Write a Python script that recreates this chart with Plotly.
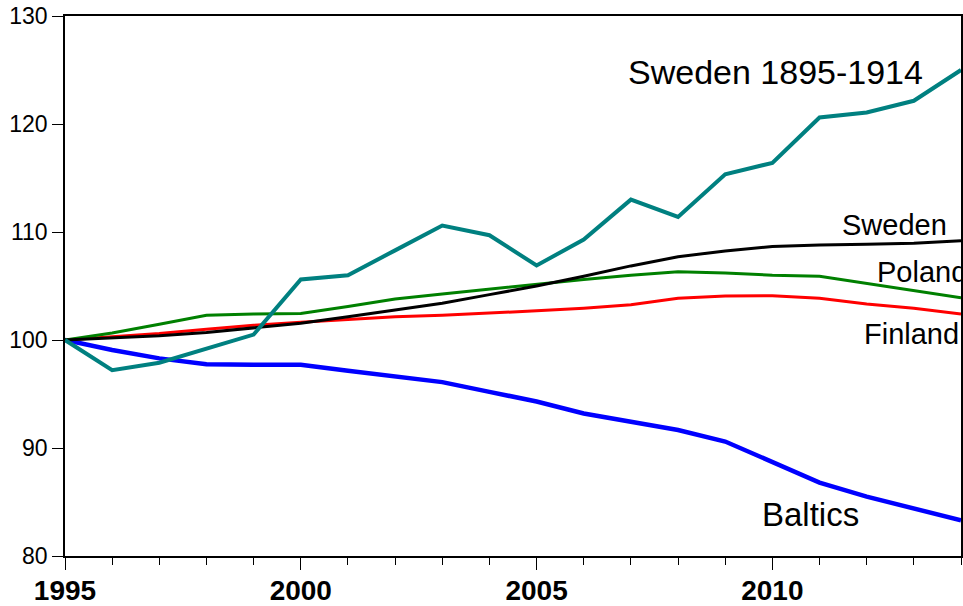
import plotly.graph_objects as go

years = list(range(1995, 2015))

sweden_1895_1914 = [100, 97.2, 97.9, 99.2, 100.5, 105.6, 106.0, 108.3, 110.6, 109.7,
                    106.9, 109.3, 113.0, 111.4, 115.35, 116.4, 120.6, 121.07, 122.15, 125.0]
sweden = [100, 100.2, 100.4, 100.7, 101.1, 101.55, 102.15, 102.8, 103.4, 104.2,
          105.0, 105.9, 106.86, 107.7, 108.25, 108.65, 108.8, 108.87, 108.96, 109.2]
poland = [100, 100.65, 101.45, 102.3, 102.4, 102.45, 103.1, 103.8, 104.26, 104.7,
          105.2, 105.6, 106.0, 106.33, 106.2, 106.0, 105.9, 105.25, 104.6, 103.9]
finland = [100, 100.3, 100.6, 101.0, 101.36, 101.65, 101.9, 102.16, 102.3, 102.47,
           102.7, 102.94, 103.27, 103.86, 104.07, 104.1, 103.86, 103.33, 102.94, 102.4]
baltics = [100, 99.07, 98.3, 97.75, 97.7, 97.7, 97.15, 96.66, 96.1, 95.2,
           94.3, 93.2, 92.43, 91.66, 90.6, 88.7, 86.8, 85.5, 84.4, 83.3]

y_ticks = [80, 90, 100, 110, 120, 130]
x_ticks = [1995, 2000, 2005, 2010]

FONT = "Liberation Sans, Arial, sans-serif"

fig = go.Figure()
series = [
    ("Baltics", baltics, "#0000FF", 4.5),
    ("Finland", finland, "#FF0000", 3),
    ("Poland", poland, "#008000", 3),
    ("Sweden", sweden, "#000000", 3),
    ("Sweden 1895-1914", sweden_1895_1914, "#008080", 4),
]
for name, vals, color, w in series:
    fig.add_trace(go.Scatter(x=years, y=vals, mode="lines", name=name,
                             line=dict(color=color, width=w), showlegend=False))

labels = [
    ("Sweden 1895-1914", 2010.07, 124.8, 34, "center"),
    ("Sweden", 2012.58, 110.66, 29, "center"),
    ("Poland", 2012.17, 106.33, 29, "left"),
    ("Finland", 2014.0, 100.56, 29, "right"),
    ("Baltics", 2010.8, 83.87, 33, "center"),
]
for text, xv, yv, size, anchor in labels:
    fig.add_annotation(x=xv, y=yv, text=text, showarrow=False,
                       xanchor=anchor, yanchor="middle",
                       font=dict(family=FONT, size=size, color="black"))

fig.update_layout(
    width=963, height=606,
    margin=dict(l=64.5, r=1.5, t=16.3, b=50.3),
    paper_bgcolor="white", plot_bgcolor="white",
    font=dict(family=FONT, color="black"),
)
fig.update_xaxes(range=[1995, 2014], tickvals=x_ticks, ticktext=[str(v) for v in x_ticks],
                 ticks="outside", ticklen=12, tickwidth=1, tickcolor="black",
                 minor=dict(dtick=1, tick0=1995, ticks="outside", ticklen=7, tickcolor="black"),
                 showline=True, linecolor="black", linewidth=1.5, mirror=True,
                 showgrid=False, zeroline=False, automargin=False,
                 ticklabeloverflow="allow", ticklabelstandoff=-3,
                 tickfont=dict(family=FONT, size=28, color="black", weight="bold"))
fig.update_yaxes(range=[80, 130], tickvals=y_ticks,
                 ticks="outside", ticklen=11, tickwidth=1, tickcolor="black",
                 showline=True, linecolor="black", linewidth=1.5, mirror=True,
                 showgrid=False, zeroline=False, automargin=False,
                 ticklabeloverflow="allow",
                 tickfont=dict(family=FONT, size=23, color="black"))

fig.write_html(
    "out.html",
    config={"displayModeBar": False},
    post_script="document.body.style.margin='0';document.documentElement.style.overflow='hidden';document.body.style.overflow='hidden';",
)
